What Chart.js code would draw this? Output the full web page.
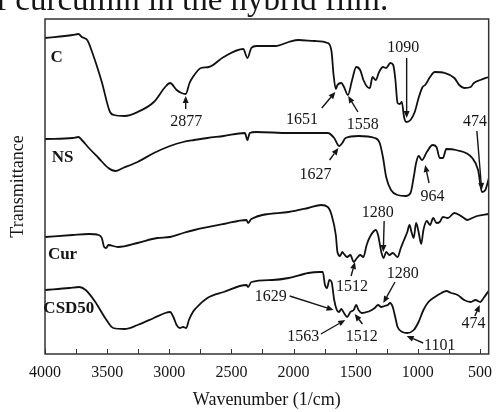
<!DOCTYPE html>
<html>
<head>
<meta charset="utf-8">
<script src="https://cdn.jsdelivr.net/npm/chart.js@4"></script>
<style>
  html, body { margin: 0; padding: 0; background: #fff; }
  canvas { display: block; }
</style>
</head>
<body>
<canvas id="ftir" width="501" height="412"></canvas>
<script>
// spectra, wavenumber (1/cm) and stacked transmittance (arbitrary units)
const cWn = [4000,3778,3731,3704,3660,3621,3543,3477,3443,3359,3255,3124,3033,2994,2941,2902,2868,2837,2810,2745,2682,2562,2405,2371,2340,2300,2144,2039,1961,1830,1725,1694,1678,1660,1647,1616,1594,1563,1529,1496,1464,1438,1406,1386,1365,1339,1312,1281,1255,1221,1198,1182,1163,1145,1129,1111,1093,1059,1025,994,962,941,902,863,784,706,667,627,575,549,497,431];
const cT  = [316,319,320,317,314,302,272,242,239,238,242,252,267,271,264,261,260,271,277,286,287,297,305,296,306,308,308,312,314,313,311,302,279,265,269,271,267,259,274,287,284,274,267,266,277,274,282,287,286,291,289,276,251,250,252,237,232,234,242,256,267,269,277,282,281,276,269,266,267,271,274,277];

const nsWn = [4000,3778,3731,3704,3647,3569,3490,3433,3373,3255,3124,2994,2889,2800,2693,2562,2392,2371,2353,2300,2039,1856,1725,1673,1634,1608,1582,1477,1347,1307,1281,1255,1216,1163,1098,1059,1033,1014,994,967,928,881,850,824,798,771,693,562,515,484,457,426];
const nsT  = [215,216,217,214,206,196,186,183,186,192,201,208,212,214,216,218,221,214,221,222,221,221,221,216,208,211,216,218,216,211,197,177,164,159,158,161,177,191,198,194,202,209,207,196,196,205,204,196,184,162,164,177];

const curWn = [4000,3778,3647,3569,3543,3524,3508,3490,3412,3255,3098,2994,2889,2798,2562,2379,2366,2340,2039,1882,1778,1725,1694,1660,1647,1626,1608,1594,1569,1543,1516,1490,1464,1438,1412,1386,1339,1320,1294,1276,1255,1229,1202,1163,1137,1111,1085,1067,1051,1033,1014,994,973,955,928,902,876,850,824,798,758,706,641,602,562,523,431];
const curT  = [117,119,120,119,116,107,106,109,107,111,116,117,121,124,130,134,131,135,142,146,149,147,139,119,102,98,102,100,97,99,92,96,99,97,109,117,124,119,102,96,102,99,101,97,106,114,122,129,122,116,131,122,110,124,133,129,136,131,132,137,136,141,137,134,136,138,140];

const csdWn = [4000,3804,3725,3673,3595,3516,3451,3359,3255,3124,3033,2994,2967,2941,2915,2889,2863,2842,2810,2784,2693,2562,2379,2366,2340,2170,2039,1882,1791,1765,1747,1731,1712,1694,1673,1652,1634,1616,1594,1569,1543,1516,1496,1477,1451,1412,1386,1347,1320,1294,1268,1241,1224,1202,1182,1163,1124,1085,1033,994,955,915,863,810,771,732,680,627,575,536,497,471,431];
const csdT  = [64,66,67,64,52,36,26,25,29,36,41,42,37,29,26,27,26,34,42,46,56,62,69,67,72,74,76,81,82,82,69,66,74,72,54,44,42,45,41,37,42,44,49,44,41,42,43,46,49,47,48,49,51,47,37,27,22,21,24,32,44,52,57,61,63,61,59,54,52,54,52,56,63];

// curve names written inside the plot
const seriesNames = ['C', 'NS', 'Cur', 'CSD50'];
const nameWn = [3906, 3859, 3859, 3808];
const nameT  = [296, 196, 99, 45];

// band labels: text position, arrow tail, arrow head (data units)
const bands = [
  { text: '2877', tx: 2863, ty: 232, x0: 2868, y0: 245, x1: 2868, y1: 258 },
  { text: '1651', tx: 1933, ty: 234, x0: 1773, y0: 246, x1: 1663, y1: 262 },
  { text: '1558', tx: 1443, ty: 229, x0: 1482, y0: 242, x1: 1561, y1: 258 },
  { text: '1090', tx: 1118, ty: 306, x0: 1090, y0: 296, x1: 1090, y1: 236 },
  { text: '474',  tx: 541,  ty: 232, x0: 525,  y0: 223, x1: 486,  y1: 164 },
  { text: '1627', tx: 1824, ty: 179, x0: 1710, y0: 194, x1: 1639, y1: 206 },
  { text: '964',  tx: 882,  ty: 157, x0: 910,  y0: 171, x1: 941,  y1: 189 },
  { text: '1280', tx: 1322, ty: 141, x0: 1271, y0: 133, x1: 1278, y1: 102 },
  { text: '1512', tx: 1529, ty: 67,  x0: 1537, y0: 78,  x1: 1506, y1: 92 },
  { text: '1629', tx: 2184, ty: 57,  x0: 2031, y0: 58,  x1: 1678, y1: 44 },
  { text: '1280', tx: 1122, ty: 80,  x0: 1184, y0: 72,  x1: 1278, y1: 51 },
  { text: '1563', tx: 1922, ty: 17,  x0: 1780, y0: 20,  x1: 1584, y1: 34 },
  { text: '1512', tx: 1451, ty: 17,  x0: 1446, y0: 30,  x1: 1508, y1: 40 },
  { text: '1101', tx: 824,  ty: 8,   x0: 957,  y0: 11,  x1: 1090, y1: 18 },
  { text: '474',  tx: 553,  ty: 30,  x0: 541,  y0: 38,  x1: 502,  y1: 49 }
];

const serif = '"Liberation Serif", "Times New Roman", serif';
const ink = '#151515';

function pts(wn, t) { return wn.map((w, i) => ({ x: w, y: t[i] })); }
function line(data) {
  return { data, borderColor: '#111', borderWidth: 1.8, pointRadius: 0, fill: false,
           cubicInterpolationMode: 'monotone' };
}

const overlay = {
  id: 'overlay',
  afterDraw(chart) {
    const { ctx, chartArea: a, scales: { x, y } } = chart;
    ctx.save();

    // clipped caption line above the figure
    ctx.fillStyle = ink;
    ctx.font = '33px ' + serif;
    ctx.textAlign = 'left';
    ctx.textBaseline = 'alphabetic';
    ctx.fillText('f curcumin in the hybrid film.', -4, 10);

    // frame and inward ticks
    ctx.strokeStyle = '#333';
    ctx.lineWidth = 1.5;
    ctx.strokeRect(a.left, a.top, a.right - a.left, a.bottom - a.top);
    ctx.lineWidth = 1;
    x.ticks.forEach(t => {
      const px = Math.round(x.getPixelForValue(t.value)) + 0.5;
      ctx.beginPath();
      ctx.moveTo(px, a.bottom);
      ctx.lineTo(px, a.bottom - 5);
      ctx.stroke();
    });

    // curve names
    ctx.font = 'bold 17px ' + serif;
    ctx.textAlign = 'center';
    ctx.textBaseline = 'middle';
    seriesNames.forEach((n, i) => {
      ctx.fillText(n, x.getPixelForValue(nameWn[i]), y.getPixelForValue(nameT[i]));
    });

    // band labels with arrows
    ctx.font = '16px ' + serif;
    ctx.strokeStyle = ink;
    ctx.lineWidth = 1.4;
    bands.forEach(b => {
      ctx.fillText(b.text, x.getPixelForValue(b.tx), y.getPixelForValue(b.ty));
      const ax = x.getPixelForValue(b.x0), ay = y.getPixelForValue(b.y0);
      const hx = x.getPixelForValue(b.x1), hy = y.getPixelForValue(b.y1);
      const ang = Math.atan2(hy - ay, hx - ax);
      const len = 7, w = 3;
      const bx = hx - len * Math.cos(ang), by = hy - len * Math.sin(ang);
      ctx.beginPath();
      ctx.moveTo(ax, ay);
      ctx.lineTo(bx, by);
      ctx.stroke();
      ctx.beginPath();
      ctx.moveTo(hx, hy);
      ctx.lineTo(bx + w * Math.sin(ang), by - w * Math.cos(ang));
      ctx.lineTo(bx - w * Math.sin(ang), by + w * Math.cos(ang));
      ctx.closePath();
      ctx.fill();
    });
    ctx.restore();
  }
};

new Chart(document.getElementById('ftir'), {
  type: 'line',
  data: {
    datasets: [line(pts(cWn, cT)), line(pts(nsWn, nsT)), line(pts(curWn, curT)), line(pts(csdWn, csdT))]
  },
  options: {
    responsive: false,
    devicePixelRatio: 1,
    animation: false,
    layout: { padding: { top: 19, right: 1, left: 0, bottom: 0 } },
    plugins: { legend: { display: false }, tooltip: { enabled: false } },
    scales: {
      x: {
        type: 'linear',
        reverse: true,
        min: 430,
        max: 4000,
        afterBuildTicks: s => { s.ticks = []; for (let v = 4000; v >= 500; v -= 250) s.ticks.push({ value: v }); },
        afterFit: s => { s.height = 58; },
        grid: { display: false, drawTicks: false },
        border: { display: false },
        ticks: {
          autoSkip: false, maxRotation: 0, padding: 9, color: ink,
          font: { family: serif, size: 16 },
          callback: v => (v % 500 === 0 ? String(v) : '')
        },
        title: { display: true, text: 'Wavenumber (1/cm)', color: ink,
                 font: { family: serif, size: 18 }, padding: { top: 0, bottom: 1 } }
      },
      y: {
        min: 0,
        max: 335,
        afterFit: s => { s.width = 45; },
        grid: { display: false, drawTicks: false },
        border: { display: false },
        ticks: { display: false },
        title: { display: true, text: 'Transmittance', color: ink,
                 font: { family: serif, size: 18 }, padding: { top: 7, bottom: 0 } }
      }
    }
  },
  plugins: [overlay]
});
</script>
</body>
</html>
